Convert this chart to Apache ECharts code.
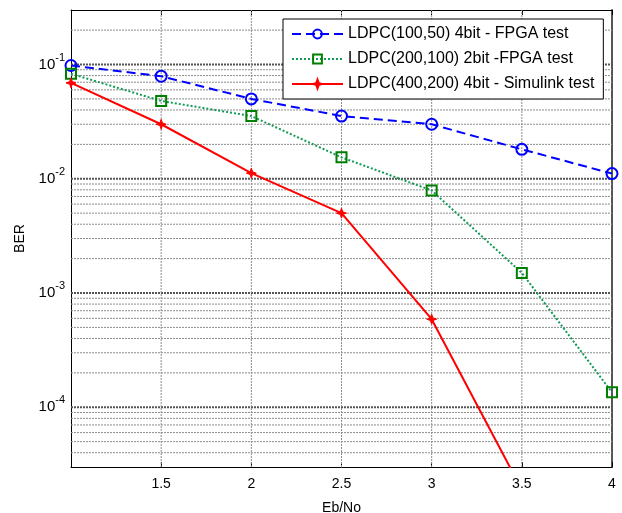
<!DOCTYPE html>
<html>
<head>
<meta charset="utf-8">
<script src="https://cdn.jsdelivr.net/npm/echarts@6/dist/echarts.min.js"></script>
<style>
  html, body { margin: 0; padding: 0; background: #fff; overflow: hidden; }
  #chart { width: 622px; height: 513px; }
</style>
</head>
<body>
<div id="chart"></div>
<script>
// Eb/No sweep (dB) and measured bit error rates
const ebNo = [1, 1.5, 2, 2.5, 3, 3.5, 4];
const xTicks = [1.5, 2, 2.5, 3, 3.5, 4];
const seriesNames = [
  'LDPC(100,50) 4bit - FPGA test',
  'LDPC(200,100) 2bit -FPGA test',
  'LDPC(400,200) 4bit - Simulink test'
];
const berFpga100 = [0.098, 0.079, 0.050, 0.0354, 0.030, 0.0181, 0.0111];
const berFpga200 = [0.083, 0.048, 0.0354, 0.0154, 0.0079, 0.0015, 0.000135];
const berSim400 = [0.069, 0.030, 0.0112, 0.0050, 0.00059, 0.000019];
const xMin = 1;
const xMax = 4;
const yMin = 3e-5;
const yMax = 0.3;
const decades = [-5, -4, -3, -2, -1];

const FONT = 'Liberation Sans';

// log-grid levels at m * 10^k inside the y range
const gridLevels = [];
decades.forEach(function (k) {
  for (let m = 1; m <= 9; m++) {
    const v = m * Math.pow(10, k);
    if (v > yMin * 1.0001 && v < yMax * 0.9999) gridLevels.push({ v: v, major: m === 1 });
  }
});

function gridSeries(points, major) {
  return {
    type: 'line',
    data: points,
    silent: true,
    z: 1,
    symbol: 'none',
    showSymbol: false,
    legendHoverLink: false,
    tooltip: { show: false },
    lineStyle: major
      ? { color: '#555555', width: 2, type: [2, 1] }
      : { color: '#8c8c8c', width: 1, type: [2, 1] }
  };
}

const gridLines = [].concat(
  gridLevels.map(function (g) { return gridSeries([[xMin, g.v], [xMax, g.v]], g.major); }),
  xTicks.filter(function (x) { return x < xMax; })
    .map(function (x) { return gridSeries([[x, yMin], [x, yMax]], false); })
);

function pairs(ys) {
  return ys.map(function (y, i) { return [ebNo[i], y]; });
}

const starPath = 'path://M0,-10 L2.6,-2.6 L10,0 L2.6,2.6 L0,10 L-2.6,2.6 L-10,0 L-2.6,-2.6 Z';

const chart = echarts.init(document.getElementById('chart'), null, { renderer: 'canvas' });

chart.setOption({
  animation: false,
  backgroundColor: '#ffffff',
  textStyle: { fontFamily: FONT },
  grid: { left: 71, right: 10, top: 10, bottom: 46, containLabel: false, outerBoundsMode: 'none' },
  legend: {
    data: seriesNames,
    z: 20,
    orient: 'vertical',
    left: 283,
    top: 19,
    padding: [7, 9, 7, 8],
    itemWidth: 51,
    itemHeight: 11,
    itemGap: 9,
    backgroundColor: '#ffffff',
    borderColor: '#000000',
    borderWidth: 1,
    borderRadius: 0,
    textStyle: { fontFamily: FONT, fontSize: 16, color: '#000' }
  },
  xAxis: [{
    type: 'value',
    min: xMin,
    max: xMax,
    interval: 0.5,
    name: 'Eb/No',
    nameLocation: 'middle',
    nameGap: 34,
    nameTextStyle: { fontFamily: FONT, fontSize: 14, color: '#000' },
    axisLine: { show: true, onZero: false, lineStyle: { color: '#000', width: 1 } },
    axisTick: { show: true, inside: true, length: 5, lineStyle: { color: '#000' } },
    axisLabel: { showMinLabel: false, fontFamily: FONT, fontSize: 14, color: '#000', margin: 10 },
    splitLine: { show: false }
  }, {
    type: 'value',
    position: 'top',
    min: xMin,
    max: xMax,
    interval: 0.5,
    axisLine: { show: true, onZero: false, lineStyle: { color: '#000', width: 1 } },
    axisTick: { show: true, inside: true, length: 5, lineStyle: { color: '#000' } },
    axisLabel: { show: false },
    splitLine: { show: false }
  }],
  yAxis: [{
    type: 'log',
    logBase: 10,
    min: yMin,
    max: yMax,
    name: 'BER',
    nameLocation: 'middle',
    nameGap: 42,
    nameTextStyle: { fontFamily: FONT, fontSize: 14, color: '#000' },
    axisLine: { show: true, onZero: false, lineStyle: { color: '#000', width: 1 } },
    axisTick: { show: false },
    splitLine: { show: false },
    axisLabel: {
      showMinLabel: false,
      showMaxLabel: false,
      margin: 6,
      formatter: function (v) {
        const e = Math.log10(v);
        const r = Math.round(e);
        if (Math.abs(e - r) > 1e-6) return '';
        return '{b|10}{s|' + r + '}';
      },
      rich: {
        b: { fontFamily: FONT, fontSize: 15, color: '#000' },
        s: { fontFamily: FONT, fontSize: 11, color: '#000', padding: [0, 0, 14, 0] }
      }
    }
  }, {
    type: 'log',
    logBase: 10,
    position: 'right',
    min: yMin,
    max: yMax,
    axisLine: { show: true, onZero: false, lineStyle: { color: '#555', width: 2 } },
    axisTick: { show: false },
    axisLabel: { show: false },
    splitLine: { show: false }
  }],
  series: gridLines.concat([
    {
      name: seriesNames[0],
      type: 'line',
      data: pairs(berFpga100),
      z: 3,
      symbol: 'circle',
      symbolSize: 11,
      color: '#0000ff',
      lineStyle: { color: '#0000ff', width: 2, type: [9, 5] },
      itemStyle: { color: 'rgba(255,255,255,0)', borderColor: '#0000ff', borderWidth: 2 }
    },
    {
      name: seriesNames[1],
      type: 'line',
      data: pairs(berFpga200),
      z: 3,
      symbol: 'rect',
      symbolSize: 10,
      color: '#008000',
      lineStyle: { color: '#119a55', width: 2, type: [2, 2] },
      itemStyle: { color: 'rgba(255,255,255,0)', borderColor: '#008000', borderWidth: 2 }
    },
    {
      name: seriesNames[2],
      type: 'line',
      data: pairs(berSim400),
      z: 3,
      clip: true,
      symbol: starPath,
      symbolSize: 10,
      color: '#ff0000',
      lineStyle: { color: '#ff0000', width: 2 },
      itemStyle: { color: '#ff0000', borderColor: '#ff0000', borderWidth: 1 }
    }
  ])
});
</script>
</body>
</html>
